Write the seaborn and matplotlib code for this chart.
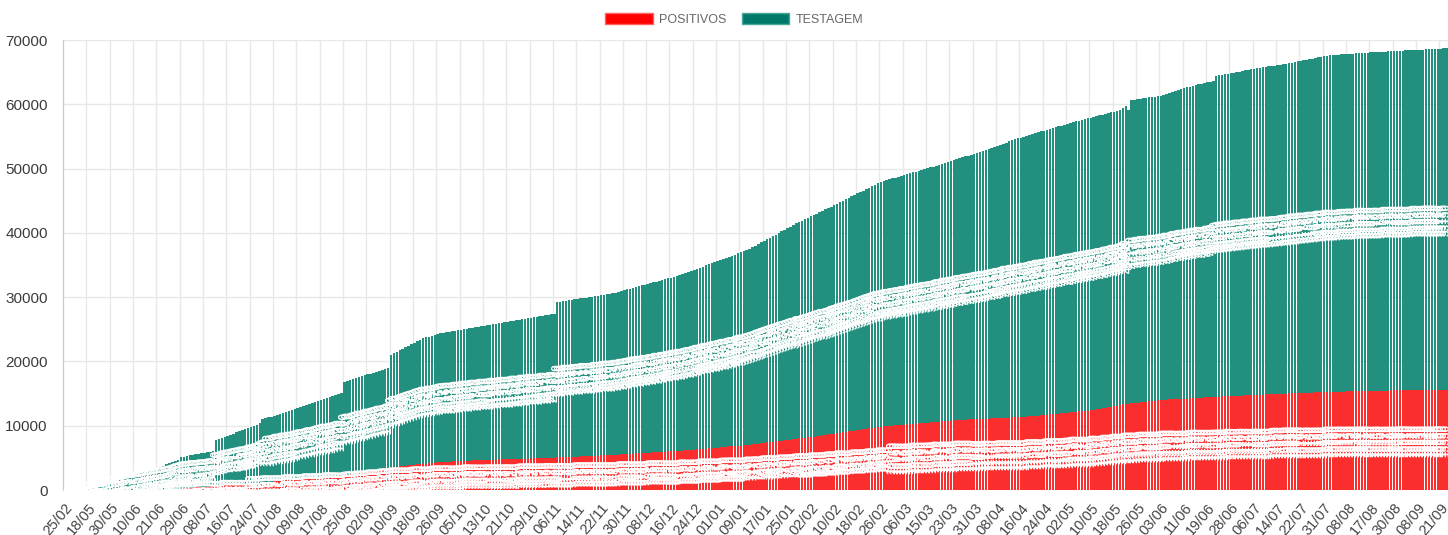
import pandas as pd
import matplotlib
matplotlib.use("Agg")
import matplotlib.pyplot as plt
from matplotlib.patches import Patch
import seaborn as sns

# cumulative positives (red) and cumulative tests (top of the teal bar), one value per day
positivos = [
    0, 0, 0, 0, 0, 0, 0, 0,
    0, 0, 0, 0, 0, 0, 0, 0,
    0, 0, 0, 0, 0, 0, 0, 0,
    0, 0, 0, 0, 0, 0, 0, 0,
    0, 0, 0, 30, 100, 130, 170, 200,
    230, 270, 300, 330, 370, 400, 430, 470,
    500, 530, 570, 600, 630, 660, 690, 720,
    750, 780, 810, 840, 880, 910, 940, 970,
    1000, 1040, 1080, 1120, 1160, 1200, 1240, 1290,
    1330, 1370, 1410, 1450, 1490, 1540, 1580, 1620,
    1660, 1700, 1740, 1780, 1820, 1860, 1900, 1940,
    1980, 2020, 2060, 2100, 2140, 2180, 2220, 2260,
    2300, 2380, 2450, 2530, 2610, 2680, 2760, 2830,
    2910, 2990, 3060, 3140, 3220, 3290, 3370, 3450,
    3520, 3600, 3650, 3690, 3740, 3790, 3830, 3880,
    3930, 3970, 4020, 4070, 4110, 4160, 4210, 4260,
    4300, 4350, 4370, 4400, 4420, 4440, 4460, 4490,
    4510, 4530, 4560, 4580, 4600, 4630, 4650, 4660,
    4680, 4690, 4710, 4720, 4740, 4750, 4770, 4780,
    4800, 4810, 4820, 4840, 4850, 4870, 4880, 4900,
    4910, 4920, 4940, 4950, 4970, 4980, 5000, 5020,
    5040, 5060, 5080, 5100, 5120, 5140, 5160, 5180,
    5200, 5220, 5250, 5270, 5290, 5310, 5330, 5350,
    5370, 5390, 5410, 5430, 5450, 5480, 5510, 5540,
    5560, 5590, 5620, 5650, 5680, 5700, 5730, 5760,
    5790, 5820, 5850, 5880, 5900, 5930, 5960, 5990,
    6020, 6040, 6070, 6100, 6140, 6180, 6220, 6260,
    6300, 6330, 6370, 6410, 6450, 6490, 6530, 6570,
    6610, 6650, 6690, 6730, 6770, 6810, 6840, 6880,
    6920, 6960, 7000, 7060, 7110, 7170, 7230, 7280,
    7340, 7400, 7450, 7510, 7570, 7620, 7680, 7740,
    7790, 7850, 7910, 7960, 8020, 8080, 8130, 8190,
    8250, 8300, 8370, 8430, 8500, 8570, 8640, 8700,
    8770, 8840, 8910, 8970, 9040, 9110, 9180, 9240,
    9310, 9380, 9450, 9510, 9580, 9650, 9720, 9780,
    9850, 9890, 9930, 9970, 10010, 10050, 10090, 10120,
    10160, 10200, 10240, 10280, 10320, 10360, 10390, 10430,
    10470, 10510, 10550, 10590, 10630, 10670, 10710, 10740,
    10780, 10820, 10860, 10900, 10920, 10940, 10970, 10990,
    11010, 11030, 11050, 11070, 11100, 11120, 11140, 11160,
    11180, 11200, 11230, 11250, 11270, 11290, 11310, 11330,
    11360, 11380, 11400, 11450, 11490, 11540, 11580, 11630,
    11670, 11720, 11770, 11810, 11860, 11900, 11950, 11990,
    12040, 12090, 12130, 12180, 12220, 12270, 12310, 12360,
    12400, 12450, 12540, 12620, 12710, 12800, 12880, 12970,
    13060, 13140, 13230, 13310, 13400, 13450, 13500, 13550,
    13600, 13650, 13700, 13750, 13800, 13850, 13900, 13950,
    14000, 14030, 14050, 14080, 14100, 14130, 14160, 14180,
    14210, 14230, 14260, 14290, 14310, 14340, 14370, 14390,
    14420, 14440, 14470, 14500, 14520, 14550, 14570, 14600,
    14620, 14640, 14660, 14680, 14700, 14720, 14740, 14760,
    14780, 14800, 14820, 14840, 14870, 14890, 14910, 14930,
    14950, 14970, 14990, 15010, 15030, 15050, 15070, 15080,
    15100, 15110, 15130, 15140, 15160, 15170, 15190, 15200,
    15220, 15230, 15250, 15260, 15280, 15290, 15310, 15320,
    15340, 15350, 15370, 15380, 15400, 15410, 15410, 15420,
    15430, 15440, 15440, 15450, 15460, 15470, 15470, 15480,
    15490, 15490, 15500, 15500, 15510, 15510, 15520, 15520,
    15530, 15530, 15530, 15540, 15540, 15540, 15540, 15550,
    15550, 15550, 15550,
]

testagem_total = [
    2, 5, 12, 20, 35, 50, 70, 90,
    120, 180, 250, 330, 420, 520, 640, 760,
    1000, 1150, 1300, 1480, 1640, 1800, 1950, 2120,
    2280, 2450, 2600, 2760, 2900, 3050, 3200, 3350,
    3500, 3650, 3800, 3980, 4150, 4320, 4500, 4700,
    5100, 5200, 5300, 5380, 5450, 5550, 5620, 5700,
    5780, 5850, 5950, 6050, 7750, 7900, 8080, 8250,
    8430, 8600, 8780, 8950, 9130, 9300, 9480, 9650,
    9830, 10000, 10180, 10400, 11000, 11150, 11300, 11420,
    11550, 11700, 11850, 11980, 12120, 12260, 12400, 12550,
    12720, 12900, 13050, 13200, 13360, 13520, 13680, 13830,
    13990, 14150, 14300, 14460, 14620, 14780, 14940, 15100,
    16800, 16950, 17100, 17240, 17390, 17530, 17680, 17820,
    17970, 18110, 18260, 18400, 18550, 18700, 18850, 19000,
    21000, 21240, 21480, 21710, 21950, 22180, 22420, 22650,
    22890, 23120, 23360, 23600, 23730, 23870, 24000, 24130,
    24270, 24400, 24480, 24560, 24630, 24710, 24790, 24870,
    24940, 25020, 25100, 25180, 25250, 25330, 25410, 25490,
    25560, 25640, 25720, 25800, 25870, 25950, 26030, 26110,
    26180, 26260, 26340, 26420, 26490, 26570, 26650, 26730,
    26800, 26880, 26960, 27040, 27110, 27190, 27270, 27350,
    27420, 29200, 29270, 29350, 29420, 29490, 29570, 29640,
    29720, 29790, 29860, 29940, 30010, 30080, 30160, 30230,
    30310, 30380, 30450, 30530, 30600, 30720, 30840, 30970,
    31090, 31210, 31330, 31460, 31580, 31700, 31820, 31940,
    32060, 32190, 32310, 32430, 32550, 32680, 32800, 32920,
    33040, 33160, 33280, 33400, 33570, 33740, 33910, 34080,
    34250, 34420, 34590, 34760, 34930, 35100, 35270, 35440,
    35610, 35770, 35940, 36110, 36280, 36450, 36620, 36790,
    36960, 37130, 37300, 37540, 37790, 38030, 38280, 38520,
    38770, 39010, 39260, 39500, 39740, 39990, 40230, 40480,
    40720, 40970, 41210, 41460, 41700, 41920, 42130, 42350,
    42570, 42780, 43000, 43220, 43430, 43650, 43870, 44080,
    44300, 44530, 44760, 44980, 45210, 45440, 45670, 45900,
    46130, 46350, 46580, 46810, 47040, 47270, 47490, 47720,
    47950, 48080, 48210, 48340, 48470, 48600, 48730, 48860,
    48990, 49120, 49260, 49390, 49520, 49650, 49780, 49910,
    50040, 50170, 50300, 50440, 50590, 50730, 50880, 51020,
    51160, 51310, 51450, 51590, 51740, 51880, 52030, 52170,
    52310, 52460, 52600, 52760, 52920, 53080, 53250, 53410,
    53570, 53730, 53890, 54050, 54220, 54380, 54540, 54700,
    54830, 54970, 55100, 55230, 55370, 55500, 55630, 55770,
    55900, 56030, 56170, 56300, 56430, 56570, 56700, 56830,
    56970, 57100, 57220, 57340, 57450, 57570, 57690, 57810,
    57920, 58040, 58160, 58280, 58390, 58510, 58630, 58750,
    58860, 58980, 59100, 59400, 59800, 59100, 60650, 60720,
    60790, 60860, 60930, 61000, 61070, 61140, 61210, 61280,
    61350, 61450, 61600, 61750, 61900, 62050, 62200, 62350,
    62500, 62650, 62760, 62870, 62980, 63090, 63200, 63310,
    63420, 63530, 63600, 64400, 64490, 64570, 64660, 64740,
    64830, 64920, 65000, 65090, 65180, 65260, 65350, 65430,
    65500, 65580, 65650, 65730, 65800, 65880, 65950, 66030,
    66100, 66180, 66250, 66330, 66420, 66500, 66580, 66670,
    66750, 66830, 66920, 67000, 67090, 67190, 67280, 67370,
    67460, 67560, 67650, 67680, 67710, 67740, 67770, 67800,
    67830, 67860, 67890, 67920, 67960, 67990, 68020, 68050,
    68080, 68110, 68140, 68170, 68190, 68210, 68240, 68260,
    68280, 68310, 68330, 68350, 68380, 68400, 68420, 68450,
    68470, 68490, 68520, 68540, 68560, 68590, 68610, 68630,
    68660, 68680, 68700,
]

# one label every 8 bars, as on the original axis
tick_labels = [
    "25/02", "18/05", "30/05", "10/06", "21/06", "29/06", "08/07", "16/07",
    "24/07", "01/08", "09/08", "17/08", "25/08", "02/09", "10/09", "18/09",
    "26/09", "05/10", "13/10", "21/10", "29/10", "06/11", "14/11", "22/11",
    "30/11", "08/12", "16/12", "24/12", "01/01", "09/01", "17/01", "25/01",
    "02/02", "10/02", "18/02", "26/02", "06/03", "15/03", "23/03", "31/03",
    "08/04", "16/04", "24/04", "02/05", "10/05", "18/05", "26/05", "03/06",
    "11/06", "19/06", "28/06", "06/07", "14/07", "22/07", "31/07", "08/08",
    "17/08", "30/08", "08/09", "21/09",
]
TICK_STEP = 8

RED = "#ff0000"
TEAL = "#00796b"
RED_BAR = "#fb2e2e"
TEAL_BAR = "#23907f"

sns.set_style("white")
plt.rcParams["font.family"] = ["Liberation Sans", "DejaVu Sans"]

n = len(testagem_total)
df = pd.DataFrame({
    "dia": range(n),
    "positivos": positivos,
    "total": testagem_total,
})
df["testagem"] = df["total"] - df["positivos"]

fig = plt.figure(figsize=(14.48, 5.35), dpi=100)
ax = fig.add_axes([63 / 1448, 45 / 535, 1385 / 1448, 450 / 535])

# teal drawn to the full height, red over its lower part -> same look as a stack
sns.barplot(data=df, x="dia", y="total", color=TEAL_BAR, saturation=1, width=0.86,
            errorbar=None, linewidth=0, edgecolor="none", ax=ax)
sns.barplot(data=df, x="dia", y="positivos", color=RED_BAR, saturation=1, width=0.86,
            errorbar=None, linewidth=0, edgecolor="none", ax=ax)

# white value labels in the middle of each segment (chartjs datalabels style)
for i, row in df.iterrows():
    if row["positivos"] > 0:
        ax.text(i, row["positivos"] / 2, str(int(row["positivos"])), color="white",
                fontsize=8.5, fontweight="bold", rotation=90, ha="center",
                va="center", clip_on=True)
    if row["testagem"] > 0:
        ax.text(i, row["positivos"] + row["testagem"] / 2, str(int(row["testagem"])),
                color="white", fontsize=8.5, fontweight="bold", rotation=90,
                ha="center", va="center", clip_on=True)

ax.set_xlim(-0.5, n - 0.5)
ax.set_ylim(0, 70000)
ax.set_yticks(range(0, 70001, 10000))
ax.set_yticklabels([str(v) for v in range(0, 70001, 10000)], fontsize=11, color="#3c3c3c")

tick_pos = list(range(0, n, TICK_STEP))[:len(tick_labels)]
ax.set_xticks(tick_pos)
ax.set_xticklabels(tick_labels, rotation=50, ha="right", rotation_mode="anchor",
                   fontsize=10.5, color="#444444")
ax.set_xticks([p - 0.5 for p in tick_pos], minor=True)

ax.set_axisbelow(True)
ax.grid(axis="y", which="major", color="#e8e8e8", linewidth=1)
ax.grid(axis="x", which="minor", color="#e8e8e8", linewidth=1)
ax.grid(axis="x", which="major", visible=False)
ax.tick_params(axis="y", length=9, color="#e0e0e0", pad=2)
ax.tick_params(axis="x", which="major", length=6, color="#e8e8e8", pad=2)
ax.tick_params(axis="x", which="minor", length=0)
ax.set_xlabel("")
ax.set_ylabel("")

for side in ["top", "right", "bottom"]:
    ax.spines[side].set_visible(False)
ax.spines["left"].set_color("#c8c8c8")

handles = [Patch(facecolor=RED, edgecolor="#ff6060", label="POSITIVOS"),
           Patch(facecolor=TEAL, edgecolor="#4aa89a", label="TESTAGEM")]
fig.legend(handles=handles, loc="center", bbox_to_anchor=(0.507, 0.964), ncol=2,
           frameon=False, fontsize=9, handlelength=3.8, handleheight=1.0,
           handletextpad=0.5, columnspacing=1.2, labelcolor="#666666")

fig.savefig("out.png", dpi=100)
